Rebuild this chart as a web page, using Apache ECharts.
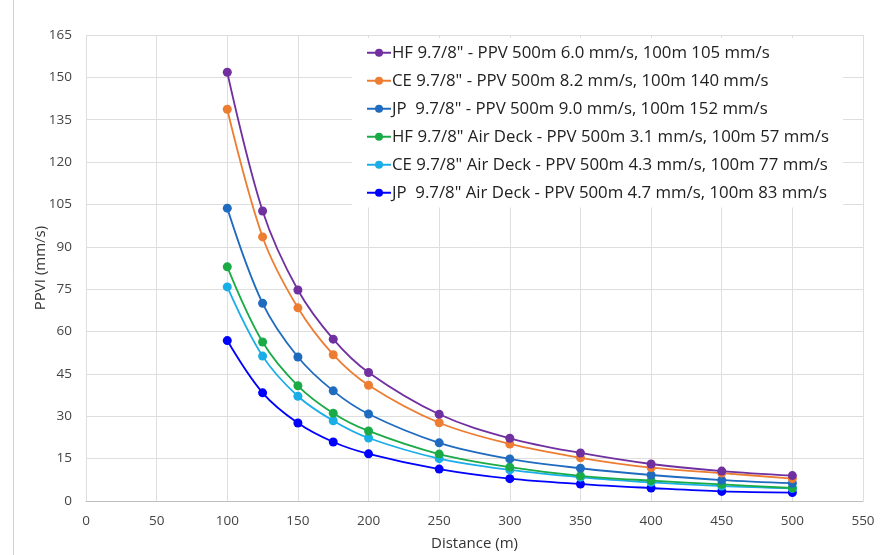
<!DOCTYPE html>
<html>
<head>
<meta charset="utf-8">
<script src="https://cdn.jsdelivr.net/npm/echarts@6/dist/echarts.min.js"></script>
<style>
  html, body { margin: 0; padding: 0; background: #fff; }
  #main { width: 893px; height: 555px; }
</style>
</head>
<body>
<div id="main"></div>
<script>
// distances (m)
var distance = [100, 125, 150, 175, 200, 250, 300, 350, 400, 450, 500];

// PPVI values
var hf   = [151.8, 102.7, 74.7, 57.3, 45.5, 30.7, 22.2, 17.0, 13.1, 10.6, 9.0];
var ce   = [138.7, 93.5, 68.4, 51.8, 41.0, 27.7, 20.2, 15.3, 11.8, 9.9, 7.9];
var jp   = [103.7, 70.0, 51.0, 39.0, 30.8, 20.6, 14.9, 11.6, 9.2, 7.4, 6.3];
var hfAd = [82.9, 56.3, 40.8, 31.1, 24.8, 16.6, 12.0, 8.9, 7.2, 5.9, 4.6];
var ceAd = [75.8, 51.3, 37.1, 28.4, 22.3, 15.0, 11.0, 8.4, 6.6, 5.3, 4.5];
var jpAd = [56.8, 38.3, 27.6, 20.9, 16.7, 11.3, 7.9, 6.0, 4.6, 3.4, 3.0];

var names = [
	'HF 9.7/8" - PPV 500m 6.0 mm/s, 100m 105 mm/s',
	'CE 9.7/8" - PPV 500m 8.2 mm/s, 100m 140 mm/s',
	'JP  9.7/8" - PPV 500m 9.0 mm/s, 100m 152 mm/s',
	'HF 9.7/8" Air Deck - PPV 500m 3.1 mm/s, 100m 57 mm/s',
	'CE 9.7/8" Air Deck - PPV 500m 4.3 mm/s, 100m 77 mm/s',
	'JP  9.7/8" Air Deck - PPV 500m 4.7 mm/s, 100m 83 mm/s'
];
var colors = ['#7030a0', '#ed7d31', '#1f6bbf', '#1aab47', '#1aaee8', '#0000ff'];
var values = [hf, ce, jp, hfAd, ceAd, jpAd];

function pairs(ys){
	return distance.map(function(x, i){ return [x, ys[i]]; });
}

var chart = echarts.init(document.getElementById('main'));

var series = values.map(function(ys, i){
	return {
		name: names[i],
		type: 'line',
		smooth: 0.35,
		data: pairs(ys),
		symbol: 'circle',
		symbolSize: 9,
		color: colors[i],
		lineStyle: { width: 1.8, color: colors[i] },
		itemStyle: { color: colors[i] },
		z: 10 - i
	};
});

chart.setOption({
	backgroundColor: '#fff',
	animation: false,
	textStyle: { fontFamily: '"Open Sans", "Liberation Sans", sans-serif' },
	grid: { left: 86, right: 30, top: 35, bottom: 54, outerBoundsMode: 'none' },
	legend: {
		orient: 'vertical',
		left: 352,
		top: 38,
		padding: [6, 14, 6, 14],
		itemGap: 10.5,
		itemWidth: 24,
		itemHeight: 10,
		backgroundColor: '#fff',
		textStyle: { fontSize: 16.8, lineHeight: 17.5, color: '#222', padding: [0, 0, 0, -4] },
		data: names,
		z: 20
	},
	xAxis: {
		type: 'value',
		min: 0,
		max: 550,
		interval: 50,
		name: 'Distance (m)',
		nameLocation: 'middle',
		nameGap: 35,
		nameMoveOverlap: false,
		nameTextStyle: { fontSize: 15, color: '#333' },
		axisLine: { show: true, lineStyle: { color: '#bfbfbf' } },
		axisTick: { show: false },
		axisLabel: { fontSize: 13.5, color: '#444', margin: 13 },
		splitLine: { show: true, lineStyle: { color: '#dedede' } }
	},
	yAxis: {
		type: 'value',
		min: 0,
		max: 165,
		interval: 15,
		name: 'PPVI (mm/s)',
		nameLocation: 'middle',
		nameGap: 38,
		nameMoveOverlap: false,
		nameTextStyle: { fontSize: 15, color: '#333' },
		axisLine: { show: false },
		axisTick: { show: false },
		axisLabel: { fontSize: 13.5, color: '#444', margin: 14 },
		splitLine: { show: true, lineStyle: { color: '#dedede' } }
	},
	graphic: [{
		type: 'line',
		shape: { x1: 13.5, y1: 0, x2: 13.5, y2: 555 },
		style: { stroke: '#d0d0d0', lineWidth: 1 }
	}],
	series: series
});
</script>
</body>
</html>
